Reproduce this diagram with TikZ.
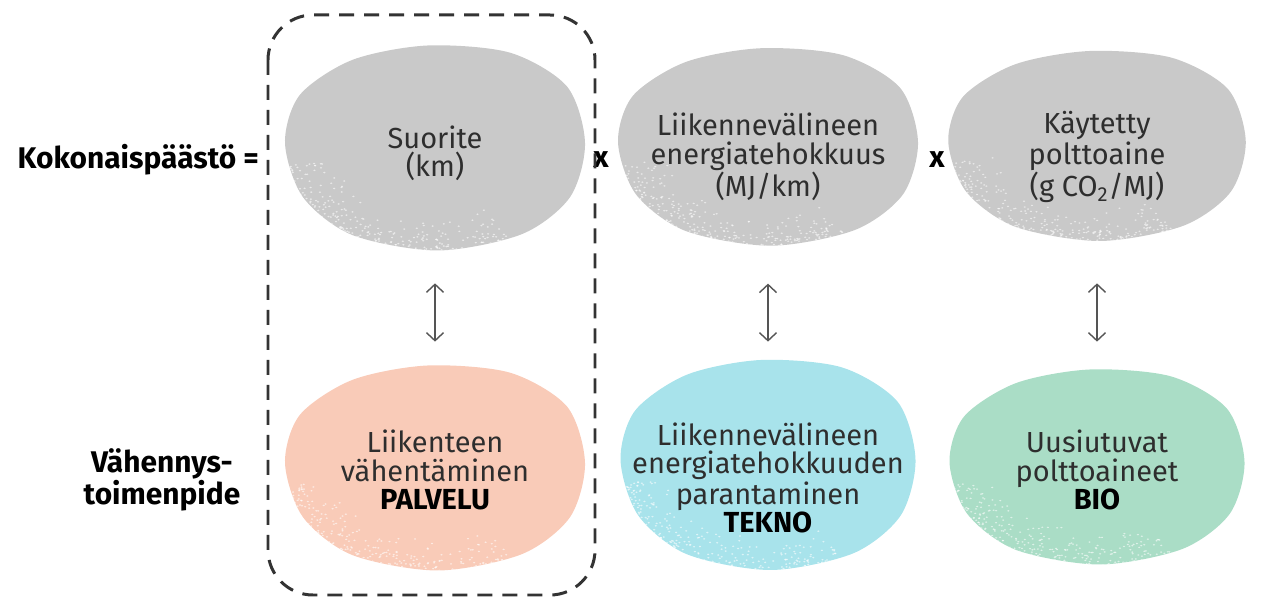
\documentclass[tikz,border=0pt]{standalone}
\usepackage{fontspec}
\setmainfont{Fira Sans}
\usetikzlibrary{arrows.meta, backgrounds, shapes.geometric}
\definecolor{blobGrey}{HTML}{C9C9C9}
\definecolor{palvPink}{HTML}{F9CBB8}
\definecolor{teknoCyan}{HTML}{A8E3EB}
\definecolor{bioGreen}{HTML}{AADDC6}
\definecolor{txtGrey}{HTML}{2E2E2E}
\definecolor{frameGrey}{HTML}{333333}
\definecolor{arrowGrey}{HTML}{555555}
\tikzset{
  blob/.style      = {ellipse, minimum width=6cm, minimum height=4.1cm, inner sep=0pt,
                      align=center, text=txtGrey, font=\fontsize{16.5}{16}\selectfont},
  sidelbl/.style   = {align=center, font=\bfseries\fontsize{17}{17}\selectfont},
  link/.style      = {{Straight Barb[length=1.6mm,width=3.4mm]}-{Straight Barb[length=1.6mm,width=3.4mm]},
                      line width=0.8pt, arrowGrey},
  frame/.style     = {draw=frameGrey, line width=1.7pt, dash pattern=on 0.3cm off 0.2cm,
                      rounded corners=0.9cm},
}
% irregular blob behind a node: node, colour, x radius, y radius, lift
\newcommand\blobfill[5]{%
  \begin{pgfonlayer}{background}
    \begin{scope}[shift={(#1.center)}, yshift=#5 cm, xscale=#3, yscale=#4]
      \fill[#2] plot[smooth cycle] coordinates {(-1,0.05) (-0.9,0.52) (-0.55,0.86) (-0.05,1)
        (0.5,0.93) (0.88,0.6) (1,0.05) (0.9,-0.48) (0.58,-0.84) (0.02,-1) (-0.55,-0.85) (-0.88,-0.48)};
      \clip plot[smooth cycle] coordinates {(-1,0.05) (-0.9,0.52) (-0.55,0.86) (-0.05,1)
        (0.5,0.93) (0.88,0.6) (1,0.05) (0.9,-0.48) (0.58,-0.84) (0.02,-1) (-0.55,-0.85) (-0.88,-0.48)};
      \foreach \k in {1,...,420} {
        \pgfmathsetmacro\t{190+110*rnd}
        \pgfmathsetmacro\r{1.06-0.4*rnd*rnd}
        \fill[white, opacity=0.6] (\t:\r) circle[radius=0.008];
      }
    \end{scope}
  \end{pgfonlayer}}

\begin{document}
\begin{tikzpicture}
  \pgfmathsetseed{11}
  \useasboundingbox (0,0) rectangle (25.22,-11.96);

  % factors
  \node[blob] (suorite) at (8.7,-3.06) {Suorite\\(km)};
  \node[blob, minimum height=3.95cm] (tehokkuus) at (15.36,-3.14)
    {Liikennevälineen\\energiatehokkuus\\(MJ/km)};
  \node[blob, minimum width=5.95cm, minimum height=3.8cm] (polttoaine) at (21.94,-3.14)
    {Käytetty\\polttoaine\\(g CO\textsubscript{2}/MJ)};

  % measures
  \node[blob] (palvelu) at (8.7,-9.4) {Liikenteen\\vähentäminen\\\textbf{\color{black}PALVELU}};
  \node[blob, minimum width=5.9cm, minimum height=4.2cm] (tekno) at (15.36,-9.56)
    {Liikennevälineen\\energiatehokkuuden\\parantaminen\\\textbf{\color{black}TEKNO}};
  \node[blob, minimum width=5.9cm, minimum height=3.9cm] (bio) at (21.94,-9.4)
    {Uusiutuvat\\polttoaineet\\\textbf{\color{black}BIO}};

  \blobfill{suorite}{blobGrey}{3.0}{2.05}{0.1}
  \blobfill{tehokkuus}{blobGrey}{3.0}{1.975}{0.2}
  \blobfill{polttoaine}{blobGrey}{2.975}{1.9}{0.22}
  \blobfill{palvelu}{palvPink}{3.0}{2.05}{0.04}
  \blobfill{tekno}{teknoCyan}{2.95}{2.1}{0.26}
  \blobfill{bio}{bioGreen}{2.95}{1.95}{0.06}

  % row labels and operators
  \node[sidelbl, anchor=east] (total) at (5.3,-3.2) {Kokonaispäästö =};
  \node[sidelbl] (measure) at (3.24,-9.6) {Vähennys-\\toimenpide};
  \node[sidelbl] (times1) at (12.02,-3.2) {x};
  \node[sidelbl] (times2) at (18.74,-3.2) {x};

  \foreach \a/\b/\s/\e in {suorite/palvelu/0.55/0.51, tehokkuus/tekno/0.55/0.62,
                           polttoaine/bio/0.62/0.61}
    \draw[link, shorten <=\s cm, shorten >=\e cm] (\a) -- (\b);

  \draw[frame] (5.36,-0.3) rectangle (11.9,-11.9);
\end{tikzpicture}
\end{document}
